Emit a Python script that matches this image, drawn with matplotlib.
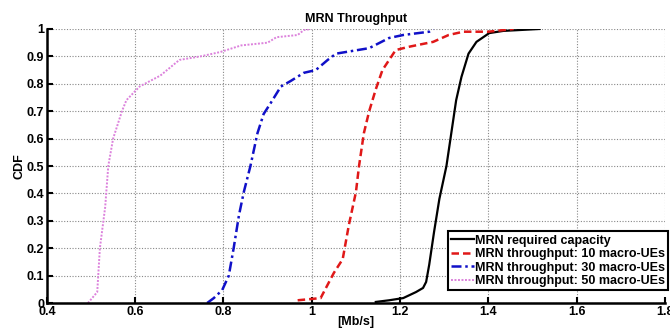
import matplotlib
matplotlib.use("Agg")
import matplotlib.pyplot as plt

# CDF curves: (throughput [Mb/s], CDF)
req_x = [1.145, 1.175, 1.207, 1.236, 1.252, 1.259, 1.266, 1.277, 1.289, 1.305,
         1.316, 1.327, 1.339, 1.355, 1.373, 1.402, 1.434, 1.516]
req_y = [0.004, 0.010, 0.018, 0.040, 0.055, 0.077, 0.140, 0.260, 0.380, 0.500,
         0.620, 0.740, 0.825, 0.910, 0.953, 0.985, 0.993, 1.000]

ue10_x = [0.968, 1.020, 1.050, 1.070, 1.084, 1.100, 1.107, 1.118, 1.130, 1.145,
          1.160, 1.190, 1.220, 1.275, 1.310, 1.343, 1.400, 1.457]
ue10_y = [0.010, 0.018, 0.110, 0.160, 0.285, 0.405, 0.500, 0.620, 0.700, 0.780,
          0.850, 0.923, 0.935, 0.953, 0.978, 0.990, 0.990, 1.000]

ue30_x = [0.763, 0.778, 0.797, 0.812, 0.823, 0.835, 0.846, 0.861, 0.877, 0.891,
          0.907, 0.930, 0.952, 0.982, 1.009, 1.036, 1.055, 1.130, 1.175, 1.207,
          1.266, 1.275]
ue30_y = [0.000, 0.018, 0.047, 0.100, 0.200, 0.320, 0.405, 0.500, 0.620, 0.690,
          0.730, 0.790, 0.810, 0.840, 0.850, 0.887, 0.910, 0.930, 0.967, 0.978,
          0.990, 1.000]

ue50_x = [0.493, 0.514, 0.520, 0.532, 0.539, 0.550, 0.570, 0.580, 0.610, 0.657,
          0.700, 0.748, 0.793, 0.840, 0.900, 0.920, 0.968, 0.982, 0.998]
ue50_y = [0.000, 0.040, 0.200, 0.350, 0.500, 0.600, 0.700, 0.740, 0.790, 0.830,
          0.887, 0.900, 0.916, 0.940, 0.950, 0.970, 0.978, 0.996, 1.000]

labels = ["MRN required capacity",
          "MRN throughput: 10 macro-UEs",
          "MRN throughput: 30 macro-UEs",
          "MRN throughput: 50 macro-UEs"]

xticks = [0.4, 0.6, 0.8, 1.0, 1.2, 1.4, 1.6, 1.8]
xtick_labels = ["0.4", "0.6", "0.8", "1", "1.2", "1.4", "1.6", "1.8"]
yticks = [0, 0.1, 0.2, 0.3, 0.4, 0.5, 0.6, 0.7, 0.8, 0.9, 1.0]
ytick_labels = ["0", "0.1", "0.2", "0.3", "0.4", "0.5", "0.6", "0.7", "0.8", "0.9", "1"]

plt.rcParams["font.family"] = ["Liberation Sans", "DejaVu Sans"]
plt.rcParams["font.weight"] = "bold"
plt.rcParams["font.size"] = 9

fig = plt.figure(figsize=(6.7, 3.33), dpi=100)
ax = fig.add_axes([0.070, 0.090, 0.9225, 0.823])

ax.plot(req_x, req_y, color="black", linestyle="-", linewidth=1.6, label=labels[0])
ax.plot(ue10_x, ue10_y, color="#e01818", linestyle=(0, (3, 1.6)), linewidth=1.8, label=labels[1])
ax.plot(ue30_x, ue30_y, color="#1010c8", linestyle=(0, (4, 1.5, 1, 1.5)), linewidth=1.8, label=labels[2])
ax.plot(ue50_x, ue50_y, color="#dc82dc", linestyle=(0, (1, 0.8)), linewidth=1.4, label=labels[3])

ax.set_xlim(0.4, 1.8)
ax.set_ylim(0, 1)
ax.set_xticks(xticks)
ax.set_xticklabels(xtick_labels)
ax.set_yticks(yticks)
ax.set_yticklabels(ytick_labels)

ax.grid(True, linestyle=(0, (1, 1.5)), color="#888888", linewidth=0.8)
ax.set_axisbelow(True)
for side in ["top", "right"]:
    ax.spines[side].set_visible(False)
for side in ["left", "bottom"]:
    ax.spines[side].set_linewidth(1.8)
ax.tick_params(direction="in", length=4, width=1.5, pad=2)

ax.set_title("MRN Throughput", fontweight="bold", fontsize=9, pad=5)
ax.set_xlabel("[Mb/s]", fontweight="bold", labelpad=-1)
ax.set_ylabel("CDF", fontweight="bold", labelpad=1)

leg = ax.legend(loc="lower right", bbox_to_anchor=(1.005, 0.047), borderaxespad=0,
                fancybox=False, handlelength=1.85, handletextpad=0.05,
                labelspacing=0.12, borderpad=0.25, framealpha=1)
leg.get_frame().set_edgecolor("black")
leg.get_frame().set_linewidth(1.5)

fig.savefig("out.png", dpi=100)
